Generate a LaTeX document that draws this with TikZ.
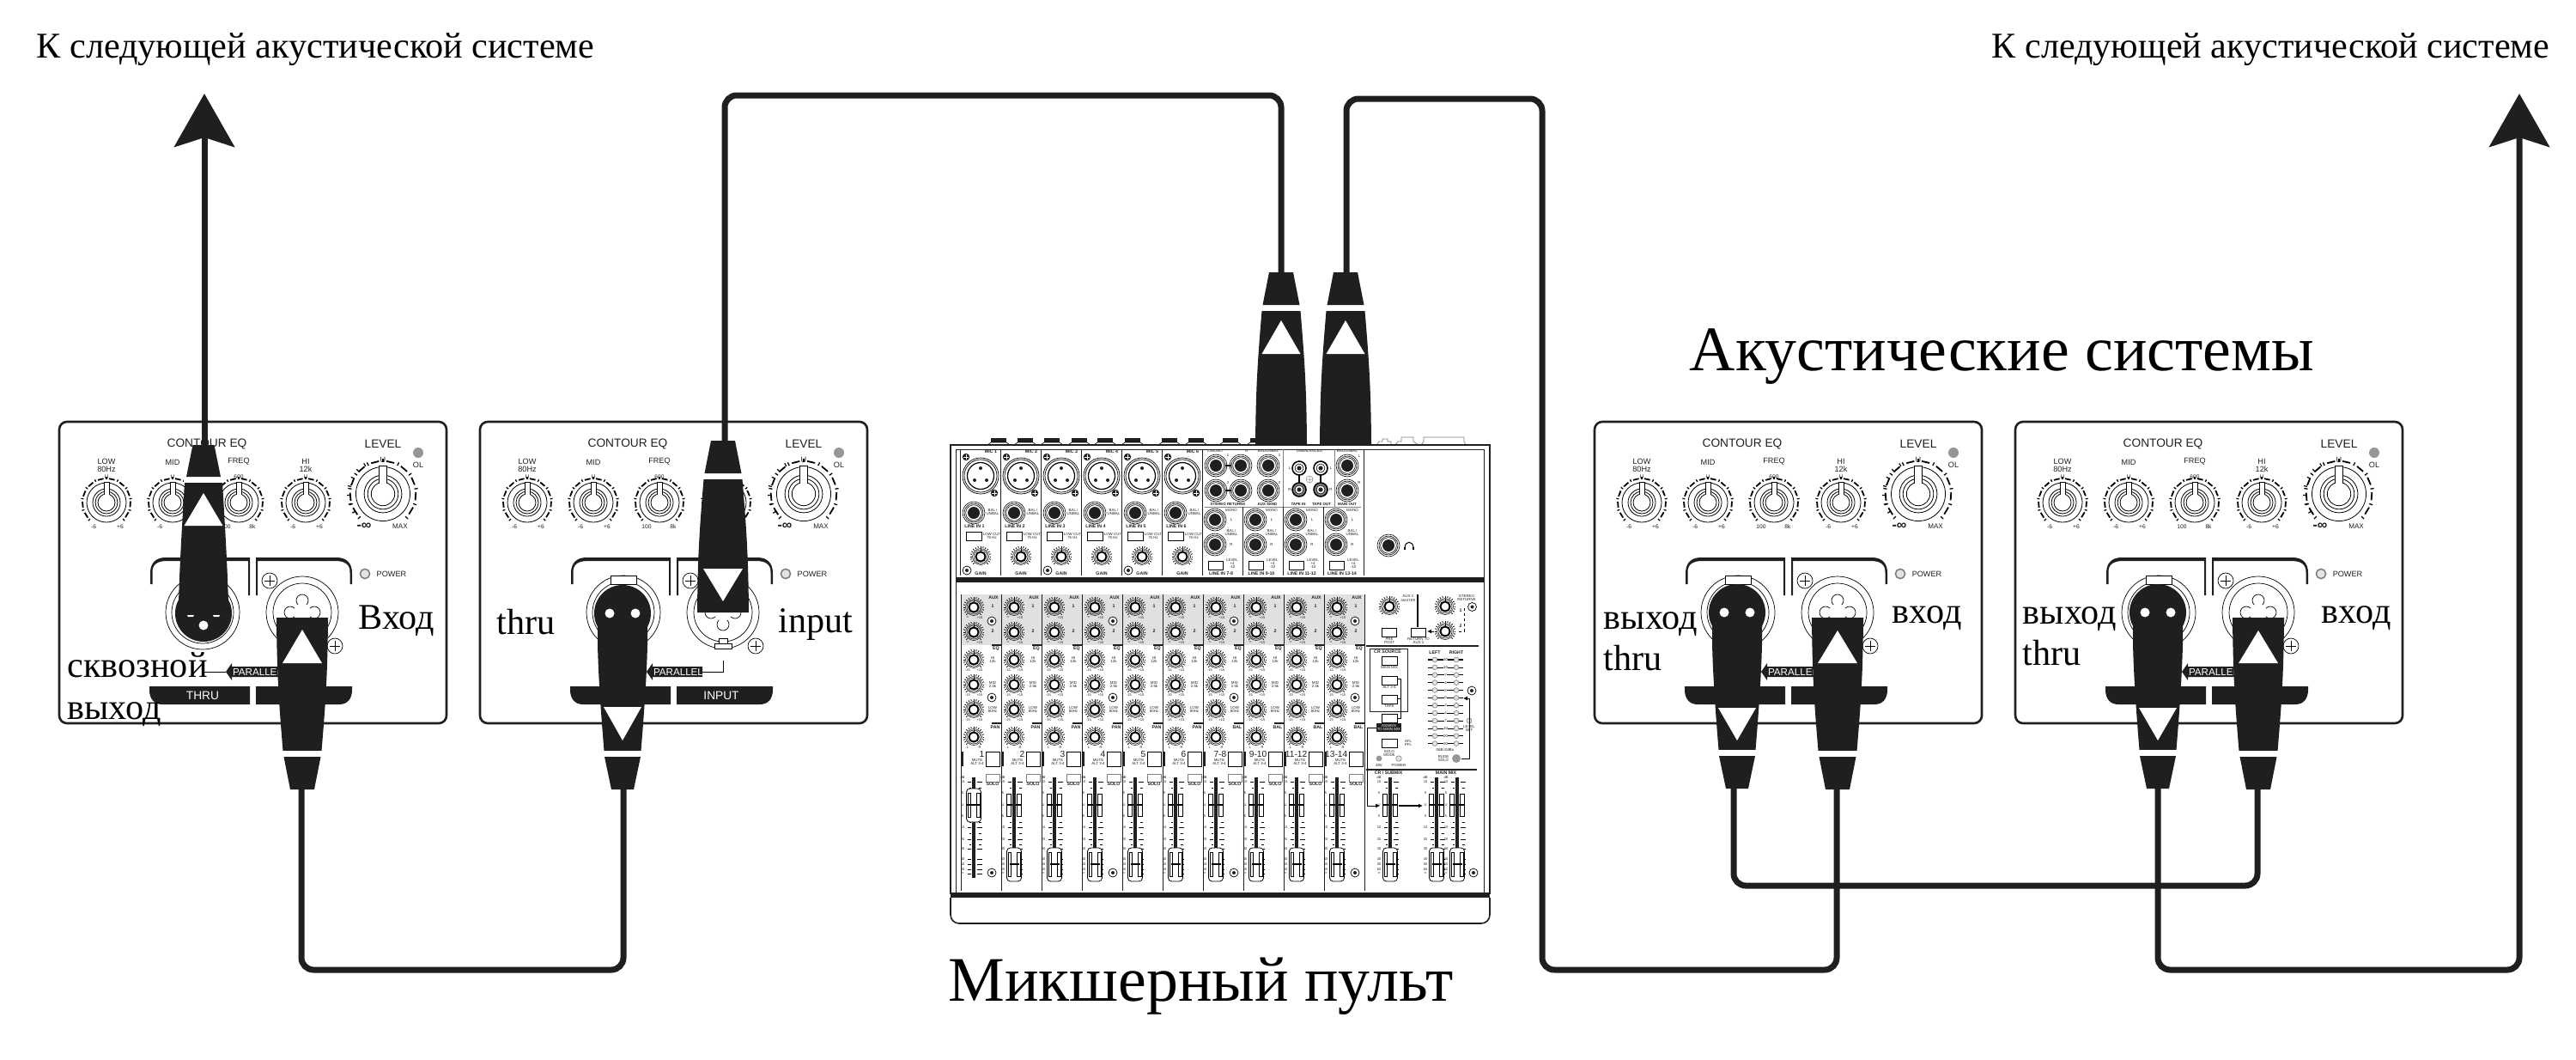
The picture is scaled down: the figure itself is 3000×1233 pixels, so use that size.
\documentclass[tikz,border=0pt]{standalone}
\usepackage{fontspec}
\setmainfont{Liberation Serif}
\setsansfont{Liberation Sans}
\usepackage{xcolor}
\usetikzlibrary{arrows.meta}
\usetikzlibrary{math}
\definecolor{myblack}{RGB}{33,30,31}
\definecolor{mygrey}{RGB}{224,224,224}
\definecolor{myled}{RGB}{150,150,150}
\definecolor{mylight}{RGB}{228,228,228}
\newcommand{\sz}[1]{\fontsize{#1}{#1}\selectfont}
\tikzset{
  px/.style={line width=#1*0.01cm},
  eqbig/.style={inner sep=0,text=myblack,font=\sffamily\sz{3.9}},
  eqmid/.style={inner sep=0,text=myblack,font=\sffamily\sz{2.6}},
  eqsmall/.style={inner sep=0,text=myblack,font=\sffamily\sz{1.9}},
  mixtiny/.style={inner sep=0,text=myblack,font=\sffamily\sz{1.15}},
  mixtext/.style={inner sep=0,align=center,text=myblack,font=\sffamily\sz{1.25}},
  mixmid/.style={inner sep=0,align=center,text=myblack,font=\sffamily\bfseries\sz{1.5}},
  mixlow/.style={mixmid,font=\sffamily\bfseries\sz{1.25}},
  toptext/.style={inner sep=0,anchor=base west,text=black,font=\sz{12}},
  bigtext/.style={inner sep=0,anchor=base west,text=black,font=\sz{21}},
  jacktext/.style={inner sep=0,anchor=base west,text=black,font=\sz{12}},
  cable/.style={draw=myblack,px=7,rounded corners=0.14cm},
  bighead/.style={-{Stealth[length=6.2mm,width=7mm,inset=1.1mm]}},
  smallhead/.style={-{Latex[length=0.5mm,width=0.5mm]}},
}
\newcommand{\panelknob}[3]{
  \begin{scope}[shift={(#1,#2)},scale=#3]
    \draw[px=.8] (0,0) circle (23) (0,0) circle (16) (0,0) circle (13) (0,0) circle (10);
    \fill[white] (-3,-8) rectangle (3,-24);
    \draw[px=.9] (-3,-9) -- (-3,-24) -- (3,-24) -- (3,-9);
    \foreach \a in {135,162,...,405} {\draw[px=1.3] (\a:27) -- (\a:30);}
    \foreach \a in {135,162,...,378} {\draw[px=1.8] (\a+6:28) -- (\a+20:28);}
  \end{scope}
}
\newcommand{\mixknob}[2]{
  \begin{scope}[shift={(#1,#2)}]
    \draw[px=.5] (0,0) circle (9.5) (0,0) circle (8);
    \draw[px=2,fill=white] (0,0) circle (5.6);
    \draw[px=1] (0,-6) -- (0,-9.5);
    \foreach \a in {135,150,...,405} {\draw[px=.8] (\a:10.5) -- (\a:12.3);}
  \end{scope}
}
\newcommand{\mixdot}[2]{
  \draw[px=.7,fill=white] (#1,#2) circle (5);
  \fill[myblack] (#1,#2) circle (2);
}
\newcommand{\jackhole}[2]{
  \draw[px=.6,fill=white] (#1,#2) circle (13) (#1,#2) circle (11) (#1,#2) circle (9.3);
  \fill[myblack] (#1,#2) circle (7);
}
\newcommand{\rcajack}[3]{
  \draw[px=1.6,fill=#3] (#1,#2) circle (8);
  \draw[px=.6,fill=white] (#1,#2) circle (5);
  \fill[myblack] (#1,#2) circle (2.6);
}
\newcommand{\fadercap}[3]{
  \begin{scope}[shift={(#1,#2)}]
    \draw[px=.8,fill=white,rounded corners=0.04cm] (-8.5,-19) rectangle (8.5,20);
    \draw[px=.6] (-7,-14) rectangle (-3.5,14) (3.5,-14) rectangle (7,14);
    \draw[px=2.6] (-#3,0) -- (#3,0);
  \end{scope}
}
\newcommand{\faderslot}[3]{
  \foreach \ty in {910,963,977,988,1000,1006,1012,1017} {\draw[px=.9] (#1-7,\ty) -- (#1-3,\ty) (#1+4,\ty) -- (#1+10,\ty);}
  \foreach \ty in {917,957,970,983} {\draw[px=.9] (#1-5,\ty) -- (#1-3,\ty) (#1+6,\ty) -- (#1+9,\ty);}
  \foreach \ty/\tl in {905/dB,910/10,923/5,937/U,950/5,963/10,977/20,988/30,1000/40,1006/50,1012/60,1017/∞} {\node[mixtiny] (db#3\ty) at (#1-13,\ty) {\tl};}
  \draw[px=1] (#1-8.5,924) rectangle (#1-3.5,950) (#1+3.5,924) rectangle (#1+8.5,950);
  \draw[px=1.1] (#1-8.5,937) -- (#1+8.5,937);
  \draw[px=4,myblack] (#1,905) -- (#1,#2);
}
\newcommand{\plugmark}[4]{
  \fill[white] (#1-#4,#2) -- (#1,#3) -- (#1+#4,#2) -- cycle;
}
\tikzset{
  pics/comboplug/.style={code={
    \fill[myblack] (-30,0) -- (30,0) .. controls (29.5,60) and (28,90) .. (22.5,155) -- (-22.5,155) .. controls (-28,90) and (-29.5,60) .. cycle;
    \fill[white] (-24,155) rectangle (24,162);
    \fill[myblack] (-21.5,162) -- (21.5,162) -- (14,200) -- (-14,200) -- cycle;
  }},
  pics/maleplug/.style={code={
    \fill[myblack] (0,-33) circle (33);
    \fill[myblack] (-29,-30) -- (29,-30) -- (29,-45) .. controls (28,-80) and (26,-120) .. (22,-185) -- (-22,-185) .. controls (-26,-120) and (-28,-80) .. (-29,-45) -- cycle;
    \fill[white] (-23,-185) rectangle (23,-192);
    \fill[myblack] (-20,-192) -- (20,-192) -- (12.5,-229) -- (-12.5,-229) -- cycle;
    \fill[white] (0,-19) circle (5.5);
    \fill[white] (-19,-31) -- (-11,-31) -- (-12,-29) -- (-18,-29) -- cycle (11,-31) -- (19,-31) -- (18,-29) -- (12,-29) -- cycle;
  }},
  pics/femaleplug/.style={code={
    \fill[myblack] (0,33) circle (33);
    \fill[myblack] (-29,30) -- (29,30) -- (29,70) .. controls (28,110) and (25,150) .. (21.5,193) -- (-21.5,193) .. controls (-25,150) and (-28,110) .. (-29,70) -- cycle;
    \fill[white] (-23,193) rectangle (23,200);
    \fill[myblack] (-21,200) -- (21,200) -- (13,238) -- (-13,238) -- cycle;
    \fill[white] (-15,33) circle (5.5) (15,33) circle (5.5);
  }},
  pics/speakerpanel/.style={code={
    \draw[px=2.6,myblack,rounded corners=0.09cm] (0,0) rectangle (451,351);
    \node[eqbig] (-contour) at (172,26) {CONTOUR EQ};
    \node[eqbig] (-level) at (377,26) {LEVEL};
    \fill[myled] (418,36) circle (6);
    \node[eqmid] (-ol) at (418,50) {OL};
    \node[eqmid] (-low) at (55,46) {LOW};
    \node[eqmid] (-lowhz) at (55,55) {80Hz};
    \node[eqmid] (-mid) at (132,47) {MID};
    \node[eqmid] (-freq) at (209,46) {FREQ};
    \node[eqmid] (-hi) at (287,46) {HI};
    \node[eqmid] (-hik) at (287,55) {12k};
    \node[eqsmall] (-ulow) at (55,64) {U};
    \node[eqsmall] (-umid) at (132,64) {U};
    \node[eqsmall] (-ufreq) at (209,64) {600};
    \node[eqsmall] (-uhi) at (287,64) {U};
    \foreach \kx in {55,132,209,287} {\panelknob{\kx}{94}{1}}
    \panelknob{377}{84}{1.37}
    \foreach \a in {148,163,...,238} {\draw[px=1.2] (377,84) ++(\a:38) -- ++(\a:4);}
    \foreach \kx/\lx/\ly/\rx/\ry in {a/40/-6/71/+6,b/117/-6/148/+6,c/194/100/225/8k,d/272/-6/303/+6} {
      \node[eqsmall] (-minus\kx) at (\lx,122) {\ly};
      \node[eqsmall] (-plus\kx) at (\rx,122) {\ry};
    }
    \node[eqmid] (-ubig) at (377,44) {U};
    \node[eqmid,font=\sffamily\bfseries\sz{4.6}] (-inf) at (355,122) {-∞};
    \node[eqsmall,font=\sffamily\sz{2.3}] (-max) at (397,122) {MAX};
    \fill[myblack] (106,189) -- (106,176) .. controls (106,165) and (112,158) .. (124,158) -- (222,158) -- (222,202) -- (220,202) -- (220,162) -- (126,162) .. controls (114,162) and (108,166) .. (108.5,176) -- (108.5,189) -- cycle;
    \fill[myblack] (341,189) -- (341,176) .. controls (341,165) and (335,158) .. (323,158) -- (229,158) -- (229,202) -- (231,202) -- (231,162) -- (321,162) .. controls (333,162) and (339,166) .. (338.5,176) -- (338.5,189) -- cycle;
    \draw[px=1.6,draw=gray,fill=mylight] (356,177) circle (5.6);
    \node[eqmid] (-power) at (387,177) {POWER};
    \draw[px=.7] (167,222) circle (43) (167,222) circle (36);
    \draw[px=.7,fill=white] (152,179) rectangle (182,189);
    \draw[px=.7] (283,222) circle (42) (283,222) circle (34);
    \draw[px=.7] (283,208) circle (7) (269,222) circle (7) (297,222) circle (7) (283,236) circle (7);
    \fill[white] (283,222) circle (10);
    \draw[px=.7,fill=white] (278,252) rectangle (288,258) (273,258) rectangle (293,264);
    \foreach \sx/\sy in {245/185,321/261} {
      \draw[px=.7,fill=white] (\sx,\sy) circle (9);
      \draw[px=.7] (\sx-6,\sy) -- (\sx+6,\sy) (\sx,\sy-6) -- (\sx,\sy+6);
    }
    \draw[px=.8] (168,278) -- (168,291) -- (194,291) (259,291) -- (283,291) -- (283,278);
    \fill[myblack] (194,291) -- (201,281) -- (201,285) -- (259,285) -- (259,297) -- (201,297) -- (201,301) -- cycle;
    \node[eqmid,text=white,font=\sffamily\sz{3.3}] (-parallel) at (231,291) {PARALLEL};
    \fill[myblack] (105,308) -- (222,308) -- (222,329) -- (120,329) .. controls (110,329) and (105,322) .. (105,312) -- cycle;
    \fill[myblack] (341,308) -- (229,308) -- (229,329) -- (326,329) .. controls (336,329) and (341,322) .. (341,312) -- cycle;
    \node[eqbig,text=white] (-thru) at (167,319) {THRU};
    \node[eqbig,text=white] (-input) at (281,319) {INPUT};
  }},
}
\begin{document}
\begin{tikzpicture}[x=0.01cm,y=-0.01cm]
\useasboundingbox (0,0) rectangle (3000,1233);

\pic (spkA) at (69,491) {speakerpanel};
\pic (spkB) at (559,491) {speakerpanel};
\pic (spkC) at (1857,491) {speakerpanel};
\pic (spkD) at (2347,491) {speakerpanel};

\foreach \bx [count=\i] in {1163,1194,1225,1257,1287,1319,1362,1393,1433,1465} {
  \fill[myblack] (\bx-9,510) rectangle (\bx+9,515);
  \draw[px=.6] (\bx-13,518) -- (\bx-9,515) -- (\bx+9,515) -- (\bx+13,518);
}
\draw[px=.7,draw=gray] (1603,518) -- (1606,514) -- (1610,514) -- (1610,511) -- (1616,511) -- (1616,514) -- (1620,514) -- (1620,518);
\draw[px=.7,draw=gray] (1625,518) -- (1628,514) -- (1632,514) -- (1632,509) -- (1646,509) -- (1646,514) -- (1652,518);
\draw[px=.7,draw=gray] (1655,518) -- (1658,514) -- (1658,509) -- (1705,509) -- (1705,514) -- (1707,518);
\draw[px=1.6,myblack] (1107,518) rectangle (1735,1040);
\draw[px=1,myblack] (1113,523) rectangle (1728,1040);
\fill[myblack] (1113,672) rectangle (1728,678);
\fill[myblack] (1107,1040) rectangle (1735,1045);
\draw[px=1.6,myblack,rounded corners=0.1cm] (1107,1045) -- (1107,1075) -- (1735,1075) -- (1735,1045);

\foreach \i in {1,...,6} {
  \tikzmath{\x=1118+47*(\i-1);}
  \begin{scope}[shift={(\x,0)}]
    \draw[px=1,myblack] (0,523) -- (0,670);
    \draw[px=.7,fill=white] (24,554) circle (21) (24,554) circle (19);
    \draw[px=1.2] (24,554) circle (15.5);
    \fill[myblack] (24,545) circle (2) (17,559) circle (2) (31,559) circle (2);
    \foreach \sx/\sy in {7/532,40/574} {
      \fill[myblack] (\sx,\sy) circle (4.2);
      \draw[px=.9,white] (\sx-3,\sy) -- (\sx+3,\sy) (\sx,\sy-3) -- (\sx,\sy+3);
    }
    \node[mixmid] (mic\i) at (36,526) {MIC \i};
    \jackhole{16}{597}
    \node[mixtext] (bal\i) at (38,596) {BAL /\\UNBAL};
    \node[mixmid] (line\i) at (17,613) {LINE IN \i};
    \draw[px=.7] (7,619) rectangle (25,629);
    \node[mixtext] (cut\i) at (37,624) {LOW CUT\\75 Hz};
    \mixknob{24}{648}
    \node[mixmid] (gain\i) at (24,668) {GAIN};
  \end{scope}
}
\foreach \dx in {1126,1220,1314} {\mixdot{\dx}{664}}
\draw[px=1,myblack] (1400,523) -- (1400,670) (1588,523) -- (1588,670);
\draw[px=.6,gray] (1494,523) -- (1494,590) (1554,523) -- (1554,590) (1403,590) -- (1585,590);
\foreach \jx/\jy in {1416/542,1445/542,1477/542,1416/571,1445/571,1477/571,1569/542,1569/571} {\jackhole{\jx}{\jy}}
\draw[px=1.2] (1427,542) -- (1434,542) (1427,571) -- (1434,571);
\rcajack{1513}{545}{white}
\rcajack{1538}{545}{white}
\rcajack{1513}{570}{gray}
\rcajack{1538}{570}{gray}
\draw[px=1.2] (1513,553) -- (1513,562) (1538,553) -- (1538,562);
\draw[px=.5,draw=gray] (1525,558) circle (4) (1522,558) -- (1528,558) (1525,555) -- (1525,561);
\node[mixtext] (retl) at (1415,525) {L/MONO};
\node[mixtext] (retr) at (1452,525) {R};
\node[mixtext] (balaux) at (1477,525) {BAL/UNBAL};
\node[mixtext] (unbal) at (1525,525) {UNBALANCED};
\node[mixtext] (balmain) at (1569,525) {BAL/UNBAL};
\node[mixtext] (retone) at (1430,530) {1};
\node[mixtext] (rettwo) at (1430,562) {2};
\node[mixtext] (auxone) at (1490,530) {1};
\node[mixtext] (auxtwo) at (1490,562) {2};
\node[mixtext] (mainl) at (1583,531) {L};
\node[mixtext] (mainr) at (1583,562) {R};
\node[mixtext] (tapel) at (1502,545) {L};
\node[mixtext] (taper) at (1502,570) {R};
\node[mixtext] (tapeol) at (1550,545) {L};
\node[mixtext] (tapeor) at (1550,570) {R};
\node[mixlow] (stret) at (1430,587) {STEREO RETURNS};
\node[mixlow] (auxsend) at (1476,587) {AUX SEND};
\node[mixlow] (tapein) at (1512,587) {TAPE IN};
\node[mixlow] (tapeout) at (1539,587) {TAPE OUT};
\node[mixlow] (mainout) at (1569,587) {MAIN OUT};
\foreach \lab [count=\i from 0] in {7-8,9-10,11-12,13-14} {
  \tikzmath{\x=1400+47*\i;}
  \begin{scope}[shift={(\x,0)}]
    \draw[px=1,myblack] (0,590) -- (0,670);
    \jackhole{15}{605}
    \jackhole{15}{634}
    \node[mixtext] (mono\i) at (34,594) {MONO};
    \node[mixtext] (sl\i) at (34,605) {L};
    \node[mixtext] (sbal\i) at (34,620) {BAL /\\UNBAL};
    \node[mixtext] (sr\i) at (34,634) {R};
    \draw[px=.7] (7,653) rectangle (24,663);
    \node[mixtext] (slev\i) at (35,656) {LEVEL\\+4\\-10};
    \node[mixmid] (sline\i) at (22,668) {LINE IN \lab};
  \end{scope}
}
\jackhole{1617}{635}
\draw[px=1] (1636,638) .. controls (1636,629) and (1646,629) .. (1646,638);
\draw[px=1.6] (1636,637) -- (1636,640) (1646,637) -- (1646,640);

\foreach \lab [count=\i from 0] in {1,2,3,4,5,6,7-8,9-10,11-12,13-14} {
  \tikzmath{\x=1119+47*\i;}
  \begin{scope}[shift={(\x,0)}]
    \fill[mygrey] (0,692) rectangle (47,751);
    \draw[px=1,myblack] (0,692) -- (0,1037);
    \draw[px=3,myblack] (1,875) -- (1,892);
    \draw[px=1.4,myblack] (36,751) -- (47,751) (36,842) -- (47,842);
    \foreach \ky in {707,736,768,797,826,858} {\mixknob{15}{\ky}}
    \foreach \ky/\kl/\kr in {707/∞/+15,736/∞/+15,768/-15/+15,797/-15/+15,826/-15/+15,858/L/R} {
      \node[mixtiny] (kl\i\ky) at (8,\ky+12) {\kl};
      \node[mixtiny] (kr\i\ky) at (22,\ky+12) {\kr};
    }
    \node[mixmid] (aux\i) at (38,696) {AUX};
    \node[mixmid] (auxa\i) at (37,706) {1};
    \node[mixmid] (auxb\i) at (37,735) {2};
    \node[mixmid] (eq\i) at (41,755) {EQ};
    \node[mixtext] (hi\i) at (37,768) {HI\\12k};
    \node[mixtext] (mid\i) at (37,797) {MID\\2.5k};
    \node[mixtext] (low\i) at (37,826) {LOW\\80Hz};
    \node[mixmid] (pan\i) at (40,847) {\ifnum\i<6 PAN\else BAL\fi};
    \node[inner sep=0,anchor=east,text=myblack,font=\sffamily\sz{2.9}] (num\i) at (28,878) {\lab};
    \node[mixtext] (mute\i) at (19,885) {MUTE};
    \node[mixtext] (alt\i) at (19,889) {ALT 3-4};
    \draw[px=.9] (29,875) rectangle (45,892);
    \draw[px=.8,draw=gray] (29,901) rectangle (45,910);
    \node[mixmid] (solo\i) at (37,913) {SOLO};
    \ifnum\i=0
      \faderslot{15}{1022}{\i}
      \fadercap{15}{937}{8.5}
    \else
      \faderslot{15}{988}{\i}
      \fadercap{15}{1006}{5.5}
    \fi
  \end{scope}
}
\draw[px=1,myblack] (1589,692) -- (1589,1037);
\foreach \sx in {1155,1296,1437,1578} {
  \mixdot{\sx}{723}
  \mixdot{\sx}{812}
  \mixdot{\sx}{1016}
}
\mixknob{1618}{706}
\mixknob{1683}{706}
\mixknob{1683}{735}
\node[mixtext] (auxm) at (1640,694) {AUX 1};
\node[mixtiny] (auxmaster) at (1640,699) {MASTER};
\draw[px=1.2] (1651,692) -- (1651,730);
\draw[px=.8] (1609,731) rectangle (1626,741) (1643,731) rectangle (1660,741);
\node[mixtext] (prepost) at (1618,746) {PRE\\POST};
\node[mixtext] (retaux) at (1652,746) {RETURN TO\\AUX 1};
\node[mixtext] (stereor) at (1708,696) {STEREO\\RETURNS};
\node[mixmid] (stone) at (1701,711) {1};
\node[mixmid] (sttwo) at (1701,729) {2};
\draw[px=.7,dash pattern=on 0.03cm off 0.03cm] (1705,708) -- (1705,735) -- (1696,735);
\draw[px=1,smallhead] (1670,735) -- (1662,735);
\mixdot{1714.5}{706.5}
\draw[px=1.6,myblack] (1591,752) -- (1722,752) (1591,896) -- (1720,896);
\draw[px=.8,myblack] (1595,755) rectangle (1639,828);
\node[mixmid] (crsource) at (1616,759) {CR SOURCE};
\draw[px=.8] (1609,764) rectangle (1627,774) (1609,787) rectangle (1627,797) (1609,809) rectangle (1627,819) (1609,831) rectangle (1627,841);
\node[mixtext] (crmain) at (1618,777) {MAIN MIX};
\node[mixtext] (cralt) at (1618,800) {ALT 3-4};
\node[mixtext] (crtape) at (1618,822) {TAPE};
\draw[px=.8] (1627,790) -- (1631,790) -- (1631,836) -- (1627,836) (1627,813) -- (1631,813);
\fill[myblack] (1603,842) rectangle (1632,852);
\node[mixtext,text=white] (assign) at (1617.5,847) {ASSIGN\\TO MAIN MIX};
\coordinate (assignend) at (1603,847);
\coordinate (subin) at (1607,938);
\draw[px=.8,smallhead] (assignend) -- (1592,847) -- (1592,938) -- (subin);
\draw[px=1.4,smallhead] (1629,938) -- (1657,938);
\draw[px=.8] (1609,860) rectangle (1627,870);
\node[mixtext] (afl) at (1640,865) {AFL\\PFL};
\node[mixtext] (solomode) at (1618,877) {SOLO\\MODE};
\fill[myled] (1606,883) circle (3.4);
\draw[px=.6,draw=gray,fill=mylight] (1629,883) circle (3.2);
\node[mixtext] (vforty) at (1606,891) {48V};
\node[mixtext] (crpower) at (1629,891) {POWER};
\node[mixmid] (crsub) at (1617,900) {CR / SUBMIX};
\node[mixmid] (mainmix) at (1684,900) {MAIN MIX};
\node[mixmid] (left) at (1671,760) {LEFT};
\node[mixmid] (right) at (1696,760) {RIGHT};
\foreach \lab/\lw [count=\k from 0] in {30/1.4,10/.6,7/.6,4/.6,2/.6,0/1.4,2/.6,4/.6,7/.6,10/.6,20/1.4,30/.6} {
  \tikzmath{\my=768+8.87*\k;}
  \draw[px=\lw] (1663,\my) -- (1704,\my);
  \draw[px=.6,draw=gray,fill=mylight] (1671,\my) circle (2.9) (1696,\my) circle (2.9);
  \node[mixtext,fill=white] (meter\k) at (1683.5,\my) {\lab};
}
\node[mixtext] (dbu) at (1683,873) {0dB=0dBu};
\node[mixtext] (rude) at (1681,883) {RUDE\\SOLO};
\fill[myled] (1696,883) circle (5);
\draw[px=.6,draw=gray,fill=mylight] (1711,839) circle (3);
\node[mixtext] (levelset) at (1711,848) {LEVEL\\SET};
\draw[px=.8,smallhead] (1702,883) -- (1711,883) -- (1711,813) -- (1704,813);
\mixdot{1714}{804}
\foreach \fx/\fn in {1619/r,1673/s,1697/t} {
  \faderslot{\fx}{988}{\fn}
  \fadercap{\fx}{1006}{5.5}
}
\mixdot{1716}{1016}

\coordinate (arrowA) at (238,109);
\coordinate (thruA) at (238,520);
\coordinate (inA) at (351,915);
\coordinate (thruB) at (726,915);
\coordinate (inB) at (844,518);
\coordinate (mixA) at (1492,320);
\coordinate (mixB) at (1568,320);
\coordinate (inC) at (2139,915);
\coordinate (thruC) at (2019,915);
\coordinate (inD) at (2629,915);
\coordinate (thruD) at (2513,915);
\coordinate (arrowD) at (2934,109);
\draw[cable,bighead] (thruA) -- (arrowA);
\draw[cable] (inA) -- (351,1129) -- (726,1129) -- (thruB);
\draw[cable] (inB) -- (844,111) -- (1492,111) -- (mixA);
\draw[cable] (mixB) -- (1568,115) -- (1796,115) -- (1796,1129) -- (2139,1129) -- (inC);
\draw[cable] (thruC) -- (2019,1031) -- (2629,1031) -- (inD);
\draw[cable,bighead] (thruD) -- (2513,1129) -- (2934,1129) -- (arrowD);

\pic at (237,747) {maleplug};
\pic at (352,719) {comboplug};
\pic at (725,681) {femaleplug};
\pic[yscale=-1] at (842,713) {comboplug};
\pic at (2023,680) {femaleplug};
\pic at (2140,719) {comboplug};
\pic at (2513,680) {femaleplug};
\pic at (2630,719) {comboplug};
\pic[yscale=-1] at (1492,517) {comboplug};
\pic[yscale=-1] at (1567,517) {comboplug};
\plugmark{237}{612}{574}{22.5}
\plugmark{352}{772}{733}{23}
\plugmark{725}{823}{862}{22}
\plugmark{842}{662}{700}{23}
\plugmark{2023}{824}{862}{22}
\plugmark{2140}{772}{734}{23}
\plugmark{2513}{824}{862}{22}
\plugmark{2630}{772}{734}{23}
\plugmark{1492}{412}{373}{22.5}
\plugmark{1567}{412}{373}{22.5}

\node[toptext] (nextleft) at (42,67) {К следующей акустической системе};
\node[toptext] (nextright) at (2319,67) {К следующей акустической системе};
\node[bigtext] (speakers) at (1967,431) {Акустические системы};
\node[bigtext] (mixer) at (1104,1165) {Микшерный пульт};
\node[jacktext] (inlabelA) at (417,732) {Вход};
\node[jacktext] (thrulabelA) at (78,788) {сквозной};
\node[jacktext] (outlabelA) at (78,837) {выход};
\node[jacktext] (thrulabelB) at (578,738) {thru};
\node[jacktext] (inlabelB) at (906,736) {input};
\node[jacktext] (outlabelC) at (1867,732) {выход};
\node[jacktext] (thrulabelC) at (1867,780) {thru};
\node[jacktext] (inlabelC) at (2203,725) {вход};
\node[jacktext] (outlabelD) at (2355,726) {выход};
\node[jacktext] (thrulabelD) at (2355,774) {thru};
\node[jacktext] (inlabelD) at (2703,725) {вход};
\end{tikzpicture}
\end{document}
